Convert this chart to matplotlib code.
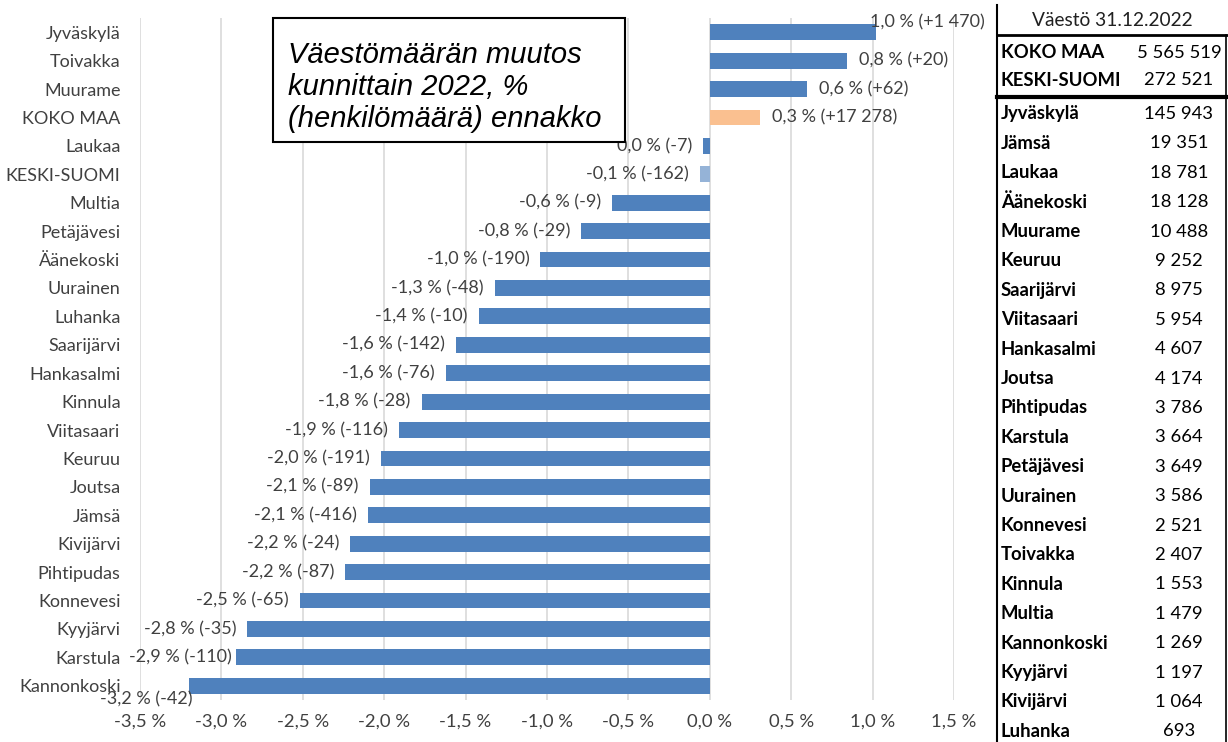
import numpy as np
import matplotlib
matplotlib.use("Agg")
import matplotlib.pyplot as plt
from matplotlib.lines import Line2D
from matplotlib.patches import Rectangle

# ---------------- data ----------------
categories = ["Jyväskylä", "Toivakka", "Muurame", "KOKO MAA", "Laukaa", "KESKI-SUOMI",
              "Multia", "Petäjävesi", "Äänekoski", "Uurainen", "Luhanka", "Saarijärvi",
              "Hankasalmi", "Kinnula", "Viitasaari", "Keuruu", "Joutsa", "Jämsä",
              "Kivijärvi", "Pihtipudas", "Konnevesi", "Kyyjärvi", "Karstula", "Kannonkoski"]
change_pct = [1.02, 0.84, 0.60, 0.31, -0.04, -0.06,
              -0.60, -0.79, -1.04, -1.32, -1.42, -1.56,
              -1.62, -1.77, -1.91, -2.02, -2.09, -2.10,
              -2.21, -2.24, -2.52, -2.84, -2.91, -3.20]
change_persons = [1470, 20, 62, 17278, -7, -162,
                  -9, -29, -190, -48, -10, -142,
                  -76, -28, -116, -191, -89, -416,
                  -24, -87, -65, -35, -110, -42]
xticks = [-3.5, -3.0, -2.5, -2.0, -1.5, -1.0, -0.5, 0.0, 0.5, 1.0, 1.5]

table_header = "Väestö 31.12.2022"
table_top_names = ["KOKO MAA", "KESKI-SUOMI"]
table_top_values = [5565519, 272521]
table_names = ["Jyväskylä", "Jämsä", "Laukaa", "Äänekoski", "Muurame", "Keuruu",
               "Saarijärvi", "Viitasaari", "Hankasalmi", "Joutsa", "Pihtipudas",
               "Karstula", "Petäjävesi", "Uurainen", "Konnevesi", "Toivakka",
               "Kinnula", "Multia", "Kannonkoski", "Kyyjärvi", "Kivijärvi", "Luhanka"]
table_values = [145943, 19351, 18781, 18128, 10488, 9252,
                8975, 5954, 4607, 4174, 3786,
                3664, 3649, 3586, 2521, 2407,
                1553, 1479, 1269, 1197, 1064, 693]

title_lines = ["Väestömäärän muutos", "kunnittain 2022, %", "(henkilömäärä) ennakko"]

# ---------------- style ----------------
W, H = 1228, 742
BLUE = "#4F81BD"
ORANGE = "#FAC090"
LIGHTBLUE = "#95B3D7"
GRID = "#D9D9D9"
TXT = "#404040"
FONT = "Lato"

def fmt_int(n, sign=False):
    s = f"{abs(n):,}".replace(",", " ")
    if n < 0:
        return "-" + s
    return ("+" + s) if sign else s

def fmt_pct(v):
    r = round(v, 1) + 0.0
    return f"{r:.1f}".replace(".", ",") + " %"

fig = plt.figure(figsize=(W / 100, H / 100), dpi=100)

# ---------------- bar chart ----------------
ax = fig.add_axes([140 / W, (H - 700) / H, (954 - 140) / W, (700 - 18) / H])
y = np.arange(len(categories))
colors = []
for c in categories:
    if c == "KOKO MAA":
        colors.append(ORANGE)
    elif c == "KESKI-SUOMI":
        colors.append(LIGHTBLUE)
    else:
        colors.append(BLUE)
ax.barh(y, change_pct, height=0.56, color=colors, zorder=3)
ax.set_ylim(len(categories) - 0.5, -0.5)
ax.set_xlim(xticks[0], xticks[-1])
ax.set_xticks(xticks)
ax.set_xticklabels([fmt_pct(t) for t in xticks], fontfamily=FONT, fontsize=13.3, color=TXT)
ax.set_yticks(y)
ax.set_yticklabels(categories, fontfamily=FONT, fontsize=13, color=TXT)
ax.tick_params(axis="both", length=0)
ax.tick_params(axis="y", pad=14)
ax.tick_params(axis="x", pad=10)
ax.grid(axis="x", color=GRID, lw=1.2, zorder=0)
ax.set_axisbelow(True)
for s in ax.spines.values():
    s.set_visible(False)

# label offsets in pixels (special placements as in the original)
special = {"Jyväskylä": (-6, 10, "left"), "Karstula": (-4, 0, "right"),
           "Kannonkoski": (4, -14, "right")}
for i, (c, v, p) in enumerate(zip(categories, change_pct, change_persons)):
    txt = f"{fmt_pct(v)} ({fmt_int(p, sign=True)})"
    if c in special:
        dx, dy, ha = special[c]
    elif v > 0:
        dx, dy, ha = 12, 0, "left"
    else:
        dx, dy, ha = -11, 0, "right"
    ax.annotate(txt, xy=(v, i), xytext=(dx * 0.72, dy * 0.72), textcoords="offset points",
                ha=ha, va="center", fontfamily=FONT, fontsize=13, color=TXT, zorder=5,
                annotation_clip=False)

# ---------------- title box ----------------
fig.patches.append(Rectangle((273 / W, 1 - 142 / H), (625 - 273) / W, (142 - 18) / H,
                             transform=fig.transFigure, facecolor="white",
                             edgecolor="black", lw=1.5, zorder=10))
for k, line in enumerate(title_lines):
    fig.text(288 / W, 1 - (63 + 32 * k) / H, line, fontfamily="Liberation Sans",
             style="italic", fontsize=21, color="black", va="baseline", ha="left", zorder=11)

# ---------------- table ----------------
tax = fig.add_axes([0, 0, 1, 1], facecolor="none")
tax.set_xlim(0, W)
tax.set_ylim(H, 0)
tax.axis("off")
tax.add_line(Line2D([997, 997], [5, H], color="black", lw=1.5))
tax.add_line(Line2D([1226, 1226], [35, H], color="black", lw=1.2))
tax.add_line(Line2D([997, 1228], [35, 35], color="black", lw=2))
tax.add_line(Line2D([997, 1228], [97, 97], color="black", lw=3))
tax.text(1112, 21, table_header, fontfamily=FONT, fontsize=13.8, ha="center", va="center", color="#202020")
for k, (n, v) in enumerate(zip(table_top_names, table_top_values)):
    yy = 53 + 27 * k
    tax.text(1001, yy, n, fontfamily=FONT, fontweight="bold", fontsize=13.3, ha="left", va="center")
    tax.text(1179, yy, fmt_int(v), fontfamily=FONT, fontsize=13.3, ha="center", va="center")
for k, (n, v) in enumerate(zip(table_names, table_values)):
    yy = 114 + 29.4 * k
    tax.text(1001, yy, n, fontfamily=FONT, fontweight="bold", fontsize=13.3, ha="left", va="center")
    tax.text(1179, yy, fmt_int(v), fontfamily=FONT, fontsize=13.3, ha="center", va="center")

fig.savefig("out.png", dpi=100)
